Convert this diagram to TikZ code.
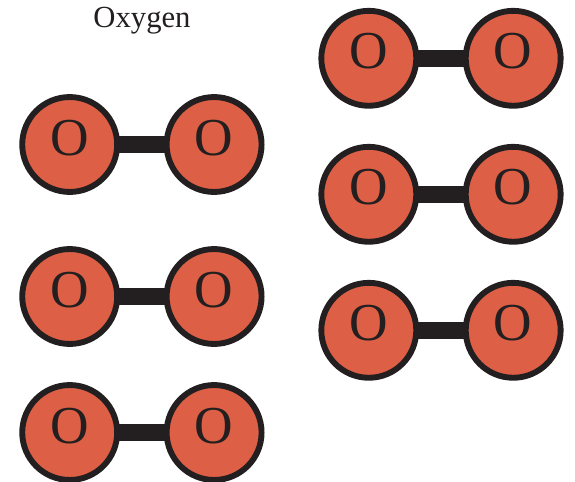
\documentclass[tikz,border=0pt]{standalone}
\usepackage{fontspec}
\setmainfont{Liberation Serif}
\definecolor{atomfill}{HTML}{DC5F46}
\definecolor{atomline}{HTML}{231F20}
\tikzset{
  atom/.style={circle,draw=atomline,fill=atomfill,line width=4.4pt,minimum size=71.2pt,inner sep=0pt,text=atomline,font=\fontsize{40}{40}\selectfont},
  bondline/.style={draw=atomline,line width=12.5pt},
}
\newcommand{\molecule}[3]{%
  \draw[bondline] (#1,-#2) -- (#1+144.4,-#2);
  \node[atom] (#3a) at (#1,-#2) {\raisebox{10.5pt}{O}};
  \node[atom] (#3b) at (#1+144.4,-#2) {\raisebox{10.5pt}{O}};
}
\begin{document}
\begin{tikzpicture}[x=0.75pt,y=0.75pt]
\useasboundingbox (0,0) rectangle (575,-482);
\fill[white] (0,0) rectangle (575,-482);
\molecule{69.7}{144.5}{m1}
\molecule{69.7}{296.5}{m2}
\molecule{69.7}{432.5}{m3}
\molecule{368.8}{58.3}{m4}
\molecule{368.8}{194.3}{m5}
\molecule{368.8}{330.3}{m6}
\node[anchor=base,font=\fontsize{23}{23}\selectfont,text=atomline] (title) at (142,-27) {Oxygen};
\end{tikzpicture}
\end{document}
